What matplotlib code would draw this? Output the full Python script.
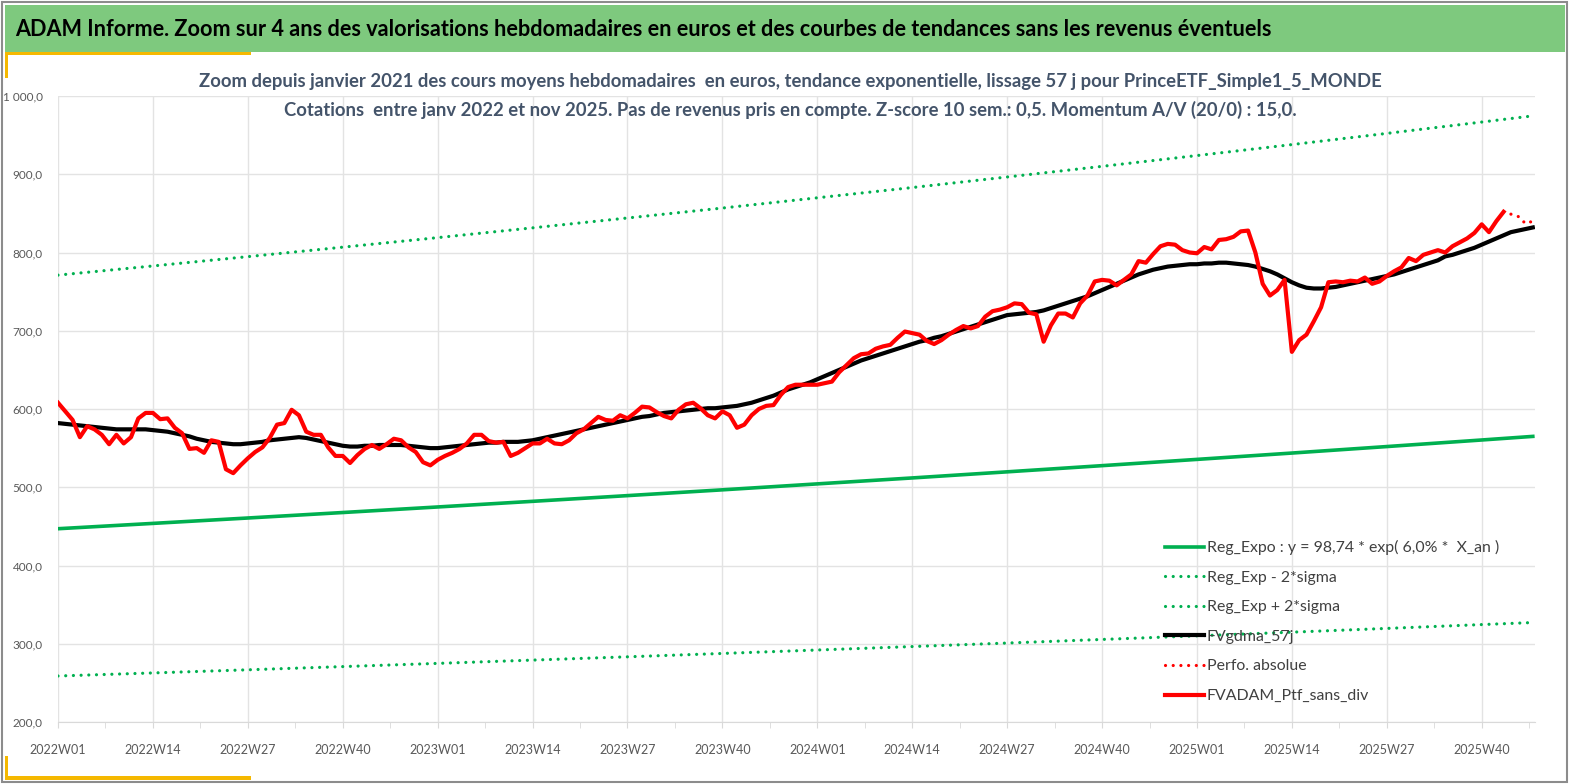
import matplotlib
matplotlib.use('Agg')
import matplotlib.pyplot as plt
from matplotlib.patches import Rectangle
from matplotlib.ticker import FuncFormatter, MultipleLocator

plt.rcParams['font.family'] = ['Lato', 'DejaVu Sans']

# --- données (une valeur par semaine, index 0 = 2022W01) ---
prix = [608, 597, 586, 564, 578, 574, 567, 555, 567, 556,
        564, 588, 595, 595, 587, 588, 576, 569, 549, 550,
        544, 560, 558, 523, 518, 528, 537, 545, 551, 563,
        580, 582, 599, 592, 571, 567, 567, 551, 540, 540,
        531, 541, 549, 554, 549, 555, 562, 560, 551, 545,
        532, 528, 535, 540, 544, 549, 556, 567, 567, 559,
        557, 558, 540, 544, 550, 556, 556, 562, 556, 555,
        560, 569, 574, 582, 590, 586, 585, 592, 588, 595,
        603, 602, 596, 591, 588, 599, 606, 608, 601, 592,
        588, 597, 592, 576, 580, 592, 600, 604, 605, 618,
        628, 631, 631, 631, 631, 633, 635, 647, 656, 665,
        670, 671, 677, 680, 682, 691, 699, 697, 695, 687,
        683, 688, 695, 701, 706, 703, 706, 718, 725, 727,
        730, 735, 734, 723, 721, 686, 707, 722, 722, 717,
        735, 745, 763, 765, 764, 758, 765, 772, 789, 787,
        798, 808, 811, 810, 803, 800, 799, 807, 804, 816,
        817, 820, 827, 828, 800, 760, 745, 752, 765, 673,
        688, 695, 712, 730, 762, 763, 762, 764, 763, 768,
        760, 763, 770, 776, 781, 793, 789, 797, 800, 803,
        800, 808, 813, 818, 825, 836, 826, 840, 852]

lissage = [582, 581, 580, 579, 578, 577, 576, 575, 574, 574,
           574, 574, 574, 573, 572, 571, 569, 567, 565, 562,
           560, 558, 557, 556, 555, 555, 556, 557, 558, 560,
           561, 562, 563, 564, 563, 561, 559, 557, 555, 553,
           552, 552, 553, 553, 554, 554, 554, 554, 553, 552,
           551, 550, 550, 551, 552, 553, 554, 555, 556, 557,
           557, 558, 558, 558, 559, 560, 562, 564, 566, 568,
           570, 572, 574, 576, 578, 580, 582, 584, 586, 588,
           590, 591, 593, 595, 596, 597, 598, 599, 600, 601,
           601, 602, 603, 604, 606, 608, 611, 614, 617, 621,
           625, 628, 631, 634, 638, 642, 646, 650, 654, 658,
           662, 665, 668, 671, 674, 677, 680, 683, 686, 688,
           691, 693, 696, 699, 702, 705, 708, 711, 714, 717,
           720, 721, 722, 723, 724, 726, 729, 732, 735, 738,
           741, 744, 748, 752, 756, 760, 764, 768, 772, 775,
           778, 780, 782, 783, 784, 785, 785, 786, 786, 787,
           787, 786, 785, 784, 782, 779, 776, 772, 767, 762,
           758, 755, 754, 754, 755, 756, 758, 760, 762, 764,
           766, 768, 770, 772, 775, 778, 781, 784, 787, 790,
           795, 797, 800, 803, 806, 810, 814, 818, 822, 826,
           828, 830, 832]

# prolongement en pointillés (Perfo. absolue)
perfo_sem = [198, 199, 200, 201, 202]
perfo = [852, 849, 846, 837, 840]

# courbes de tendance, relevées toutes les 13 semaines
tend_sem = [0, 13, 26, 39, 52, 65, 78, 91, 104, 117, 130, 143, 156, 169, 182, 195, 202]
reg_expo = [447.0, 453.8, 460.7, 467.7, 474.8, 482.0, 489.3, 496.7, 504.3,
            511.9, 519.7, 527.6, 535.6, 543.7, 552.0, 560.4, 565.0]
reg_moins = [258.8, 262.7, 266.7, 270.8, 274.9, 279.1, 283.3, 287.6, 292.0,
             296.4, 300.9, 305.5, 310.1, 314.8, 319.6, 324.5, 327.1]
reg_plus = [771.1, 782.8, 794.7, 806.8, 819.0, 831.5, 844.1, 856.8, 869.9,
            883.0, 896.5, 910.1, 923.9, 937.9, 952.2, 966.7, 974.6]

etiquettes = ['2022W01', '2022W14', '2022W27', '2022W40',
              '2023W01', '2023W14', '2023W27', '2023W40',
              '2024W01', '2024W14', '2024W27', '2024W40',
              '2025W01', '2025W14', '2025W27', '2025W40']

W, H = 1569, 784


def px(x, y):  # pixels -> coordonnées figure
    return x / W, 1 - y / H


fig = plt.figure(figsize=(W / 100, H / 100), dpi=100)

# bandeau de titre vert + décor
fig.add_artist(Rectangle(px(5, 52), 1560 / W, 47 / H, transform=fig.transFigure,
                         facecolor='#7ec97e', edgecolor='none'))
fig.add_artist(Rectangle(px(5, 55), 246 / W, 3 / H, transform=fig.transFigure,
                         facecolor='#f5b800', edgecolor='none'))
fig.add_artist(Rectangle(px(5, 78), 3 / W, 26 / H, transform=fig.transFigure,
                         facecolor='#f5b800', edgecolor='none'))
fig.add_artist(Rectangle(px(5, 780), 246 / W, 4 / H, transform=fig.transFigure,
                         facecolor='#f5b800', edgecolor='none'))
fig.add_artist(Rectangle(px(5, 780), 3 / W, 24 / H, transform=fig.transFigure,
                         facecolor='#f5b800', edgecolor='none'))
fig.add_artist(Rectangle((0.0015, 0.002), 0.997, 0.996, transform=fig.transFigure,
                         facecolor='none', edgecolor='#8c8c8c', linewidth=1.5))

x0, y0 = px(15, 29)
fig.text(x0, y0, "ADAM Informe. Zoom sur 4 ans des valorisations hebdomadaires en euros "
         "et des courbes de tendances sans les revenus éventuels",
         fontsize=15.6, fontweight='bold', color='black', va='center', ha='left')

gris = '#44546a'
x1, y1 = px(790, 82)
fig.text(x1, y1, "Zoom depuis janvier 2021 des cours moyens hebdomadaires  en euros, tendance "
         "exponentielle, lissage 57 j pour PrinceETF_Simple1_5_MONDE",
         fontsize=13.3, fontweight='bold', color=gris, ha='center', va='center')
x2, y2 = px(790, 110)
fig.text(x2, y2, "Cotations  entre janv 2022 et nov 2025. Pas de revenus pris en compte. "
         "Z-score 10 sem.: 0,5. Momentum A/V (20/0) : 15,0.",
         fontsize=13.3, fontweight='bold', color=gris, ha='center', va='center')

# zone de tracé
ax = fig.add_axes([58 / W, 1 - 722 / H, (1535 - 58) / W, (722 - 96) / H])

pointille = dict(linestyle=(0, (0.01, 2.4)), dash_capstyle='round', linewidth=2.3)
ax.plot(tend_sem, reg_expo, color='#00b050', linewidth=2.6,
        label='Reg_Expo : y = 98,74 * exp( 6,0% *  X_an )')
ax.plot(tend_sem, reg_moins, color='#00b050', label='Reg_Exp - 2*sigma', **pointille)
ax.plot(tend_sem, reg_plus, color='#00b050', label='Reg_Exp + 2*sigma', **pointille)
ax.plot(range(len(lissage)), lissage, color='black', linewidth=3, label='FVgdma_57j')
ax.plot(perfo_sem, perfo, color='#ff0000', label='Perfo. absolue', **pointille)
ax.plot(range(len(prix)), prix, color='#ff0000', linewidth=3, label='FVADAM_Ptf_sans_div')

ax.set_ylim(200, 1000)
ax.set_xlim(0, 202.3)
ax.yaxis.set_major_locator(MultipleLocator(100))
ax.yaxis.set_major_formatter(FuncFormatter(
    lambda v, p: f"{v:,.1f}".replace(',', ' ').replace('.', ',')))
ax.set_xticks([13 * i for i in range(len(etiquettes))])
ax.set_xticklabels(etiquettes)
ax.set_xticks([13 * i + 6.5 for i in range(len(etiquettes))], minor=True)

ax.grid(True, which='major', color='#e3e3e3', linewidth=1)
ax.set_axisbelow(True)
for s in ['top', 'right', 'left']:
    ax.spines[s].set_visible(False)
ax.spines['bottom'].set_color('#d9d9d9')
ax.tick_params(axis='y', length=0, pad=11, labelsize=8.5, labelcolor='#595959')
ax.tick_params(axis='x', which='both', length=4, color='#d9d9d9', pad=12,
               labelsize=9, labelcolor='#595959')

ax.legend(loc='upper left', bbox_to_anchor=((1165 - 58) / 1477, (722 - 540) / 626),
          frameon=False, fontsize=11.4, handlelength=2.45, handletextpad=0.2,
          labelspacing=0.98, borderpad=0, borderaxespad=0, labelcolor='#404040')

plt.savefig('out.png', dpi=100)
plt.close('all')
